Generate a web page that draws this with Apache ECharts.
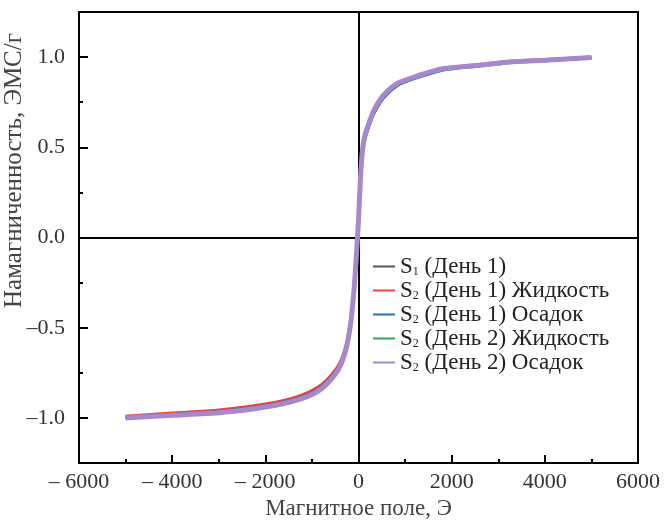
<!DOCTYPE html>
<html>
<head>
<meta charset="utf-8">
<script src="https://cdn.jsdelivr.net/npm/echarts@6/dist/echarts.min.js"></script>
<style>
  html, body { margin: 0; padding: 0; background: #fff; }
  #chart { width: 664px; height: 520px; }
</style>
</head>
<body>
<div id="chart"></div>
<script>
// поле, Э
var field = [-5000, -4000, -3000, -2000, -1250, -800, -450, -280, -170, -100, -50, 0,
  40, 80, 120, 170, 230, 330, 540, 830, 1200, 1800, 2500, 3300, 4000, 5000]

// намагниченность, ЭМС/г
var s1Day1 = [-0.998, -0.984, -0.97, -0.938, -0.893, -0.836, -0.735, -0.625, -0.475, -0.3, -0.12, 0.1,
  0.32, 0.468, 0.542, 0.592, 0.635, 0.703, 0.788, 0.852, 0.888, 0.933, 0.952, 0.973, 0.983, 0.997]
var s2Day1Liquid = [-0.99, -0.972, -0.955, -0.922, -0.875, -0.815, -0.715, -0.605, -0.455, -0.275, -0.095, 0.12,
  0.33, 0.47, 0.535, 0.582, 0.625, 0.692, 0.776, 0.843, 0.886, 0.938, 0.958, 0.978, 0.988, 1.0]
var s2Day1Sediment = [-0.995, -0.98, -0.964, -0.931, -0.886, -0.829, -0.726, -0.614, -0.462, -0.282, -0.1, 0.08,
  0.29, 0.44, 0.515, 0.57, 0.615, 0.683, 0.772, 0.84, 0.879, 0.926, 0.947, 0.969, 0.979, 0.994]
var s2Day2Liquid = [-0.999, -0.985, -0.971, -0.939, -0.895, -0.838, -0.738, -0.628, -0.478, -0.3, -0.12, 0.1,
  0.32, 0.47, 0.545, 0.595, 0.638, 0.705, 0.79, 0.853, 0.889, 0.934, 0.953, 0.974, 0.983, 0.998]
var s2Day2Sediment = [-1.0, -0.986, -0.972, -0.94, -0.896, -0.84, -0.74, -0.63, -0.48, -0.3, -0.12, 0.1,
  0.32, 0.47, 0.545, 0.595, 0.638, 0.705, 0.79, 0.854, 0.89, 0.935, 0.953, 0.974, 0.983, 0.998]

var seriesNames = ['S1 (День 1)', 'S2 (День 1) Жидкость', 'S2 (День 1) Осадок', 'S2 (День 2) Жидкость', 'S2 (День 2) Осадок']
var seriesData = [s1Day1, s2Day1Liquid, s2Day1Sediment, s2Day2Liquid, s2Day2Sediment]
var colors = ['#555555', '#e8463c', '#2f6db8', '#2fa463', '#a888cc']
var widths = [2.5, 2.5, 2.5, 2.5, 5]

var yMajor = { min: -1.0, max: 1.0, step: 0.5 }
var yMinor = { min: -1.25, max: 1.25, step: 0.25 }

function pairs(ys) {
  var out = []
  for (var i = 0; i < field.length; i++) {
    out.push([field[i], ys[i]])
  }
  return out
}

var font = 'Liberation Serif'
var series = []
for (var i = 0; i < seriesNames.length; i++) {
  var s = {
    name: seriesNames[i],
    type: 'line',
    xAxisIndex: 0,
    yAxisIndex: 0,
    smooth: 0.25,
    showSymbol: false,
    symbol: 'none',
    data: pairs(seriesData[i]),
    lineStyle: { color: colors[i], width: widths[i] },
    itemStyle: { color: colors[i] },
    z: 3 + i
  }
  if (i === 0) {
    s.markLine = {
      silent: true,
      symbol: 'none',
      label: { show: false },
      lineStyle: { color: '#000', width: 2, type: 'solid' },
      data: [{ xAxis: 0 }, { yAxis: 0 }]
    }
  }
  series.push(s)
}

var chart = echarts.init(document.getElementById('chart'))
chart.setOption({
  animation: false,
  grid: [
    // рабочая область
    { left: 79, right: 26, top: 12, bottom: 57, outerBoundsMode: 'none', show: true, borderColor: '#000', borderWidth: 2 },
    // только для крупных делений оси Y (от -1 до 1)
    { left: 79, right: 26, top: 57, bottom: 102, outerBoundsMode: 'none' }
  ],
  legend: {
    data: seriesNames,
    orient: 'vertical',
    left: 368,
    top: 250,
    itemWidth: 22,
    itemHeight: 10,
    itemGap: 1,
    icon: 'path://M0,4 L22,4 L22,6 L0,6 Z',
    formatter: function(name) {
      return '{b|S}{sub|' + name.charAt(1) + '}{b| ' + name.slice(3) + '}'
    },
    textStyle: {
      fontFamily: font,
      color: '#222',
      rich: {
        b: { fontFamily: font, fontSize: 23, lineHeight: 23, color: '#222' },
        sub: { fontFamily: font, fontSize: 12, lineHeight: 23, color: '#222', verticalAlign: 'bottom', padding: [10, 0, 0, 0] }
      }
    }
  },
  xAxis: [{
    type: 'value',
    gridIndex: 0,
    min: -6000,
    max: 6000,
    interval: 2000,
    name: 'Магнитное поле, Э',
    nameLocation: 'middle',
    nameGap: 33,
    nameTextStyle: { fontFamily: font, fontSize: 23, color: '#444' },
    axisLine: { onZero: false, lineStyle: { color: '#000', width: 2 } },
    axisTick: { inside: true, length: 8, lineStyle: { color: '#000', width: 2 } },
    minorTick: { show: true, splitNumber: 2, length: 4, lineStyle: { color: '#000', width: 2 } },
    splitLine: { show: false },
    axisLabel: {
      fontFamily: font,
      fontSize: 22,
      color: '#333',
      margin: 8,
      formatter: function(v) { return v < 0 ? '– ' + Math.abs(v) : String(v) }
    }
  }, {
    type: 'value',
    gridIndex: 1,
    min: -6000,
    max: 6000,
    show: false
  }],
  yAxis: [{
    type: 'value',
    gridIndex: 0,
    min: yMinor.min,
    max: yMinor.max,
    interval: yMinor.step,
    name: 'Намагниченность, ЭМС/г',
    nameLocation: 'middle',
    nameGap: 52,
    nameTextStyle: { fontFamily: font, fontSize: 25, color: '#444', padding: [0, 0, 0, 134] },
    axisLine: { onZero: false, lineStyle: { color: '#000', width: 2 } },
    axisTick: { inside: true, length: 4, lineStyle: { color: '#000', width: 2 } },
    splitLine: { show: false },
    axisLabel: { show: false }
  }, {
    type: 'value',
    gridIndex: 1,
    min: yMajor.min,
    max: yMajor.max,
    interval: yMajor.step,
    axisLine: { show: true, onZero: false, lineStyle: { color: '#000', width: 2 } },
    axisTick: { show: true, inside: true, length: 9, lineStyle: { color: '#000', width: 2 } },
    splitLine: { show: false },
    axisLabel: {
      fontFamily: font,
      fontSize: 22,
      color: '#333',
      margin: 14,
      formatter: function(v) { return v < 0 ? '–' + Math.abs(v).toFixed(1) : v.toFixed(1) }
    }
  }],
  series: series
})
</script>
</body>
</html>
